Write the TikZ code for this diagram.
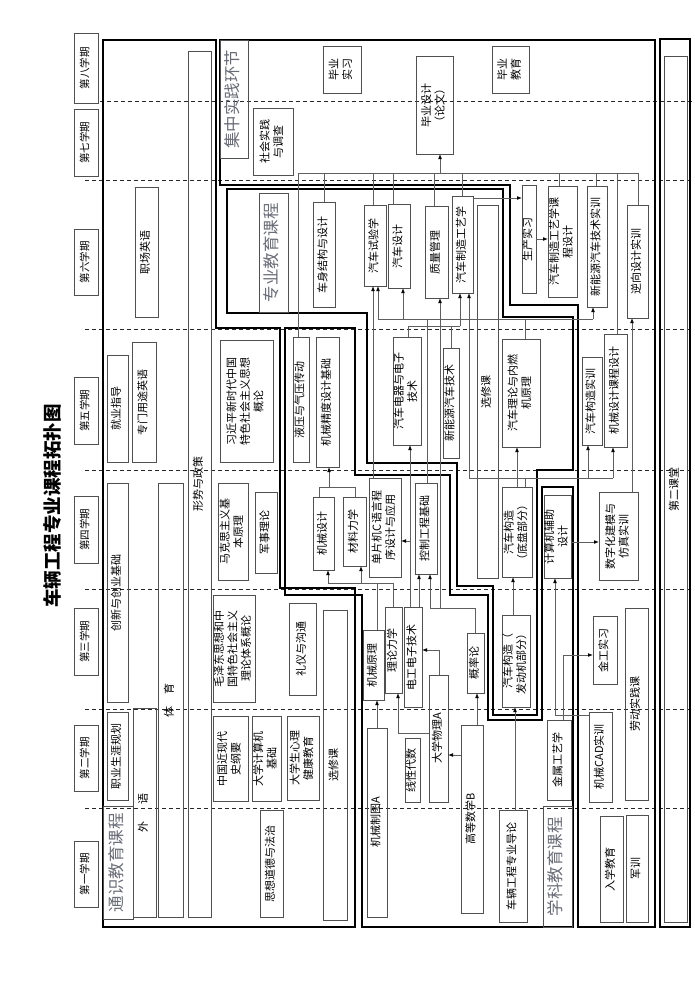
\documentclass[tikz,border=0pt]{standalone}
\usepackage{fontspec}
\setmainfont{Noto Sans CJK SC}
\usepackage{graphicx}
\usetikzlibrary{arrows.meta}
\definecolor{bordergray}{RGB}{80,80,80}
\definecolor{linegray}{RGB}{95,95,95}
\definecolor{labelgray}{RGB}{105,108,118}
\newcommand{\rtxt}[1]{\rotatebox{90}{\begin{tabular}{@{}c@{}}#1\end{tabular}}}
\newcommand{\bxs}[7]{\node[#1,minimum width={(#5-#3)*1pt},minimum height={(#6-#4)*1pt}] (#2) at ({(#3+#5)/2},{(#4+#6)/2}) {\rtxt{#7}};}
\tikzset{
 bx/.style={draw=bordergray,line width=0.8pt,inner sep=0pt,outer sep=0pt,font=\fontsize{11}{13.5}\selectfont},
 lbx/.style={bx,text=labelgray,font=\fontsize{16.5}{18}\selectfont},
 sem/.style={bx,font=\fontsize{10.5}{12}\selectfont},
 region/.style={line width=2pt,black,line join=miter},
 semline/.style={black!85,line width=0.8pt,dash pattern=on 4pt off 3pt},
 conn/.style={linegray,line width=0.8pt},
 arr/.style={conn,-{Latex[length=5pt,width=3.8pt,color=black]}},
}
\begin{document}
\begin{tikzpicture}[x=1pt,y=-1pt]
\useasboundingbox (0,0) rectangle (694,982);
% semester dashed lines
\draw[semline] (100,101) -- (692,101);
\foreach \yy in {180,329,470,589,709,808}{\draw[semline] (85,\yy) -- (692,\yy);}
% title
\node[rotate=90,font=\fontsize{18.5}{20}\selectfont\bfseries] (title) at (52,506) {车辆工程专业课程拓扑图};
% semesters
\bxs{sem}{s8}{74}{33}{98}{103}{第八学期}
\bxs{sem}{s7}{74}{109}{98}{176}{第七学期}
\bxs{sem}{s6}{74}{229}{98}{295}{第六学期}
\bxs{sem}{s5}{74}{377}{98}{444}{第五学期}
\bxs{sem}{s4}{74}{496}{98}{563}{第四学期}
\bxs{sem}{s3}{74}{608}{98}{675}{第三学期}
\bxs{sem}{s2}{74}{725}{98}{791}{第二学期}
\bxs{sem}{s1}{74}{841}{98}{907}{第一学期}
% regions
\draw[region] (103,40) -- (216,40) -- (216,328) -- (280,328) -- (280,588) -- (355,588) -- (355,927) -- (103,927) -- cycle;
\draw[region] (285,328) -- (355,328) -- (355,475) -- (450,475) -- (450,595) -- (488,595) -- (488,720) -- (542,720) -- (542,487) -- (573,487) -- (573,927) -- (362,927) -- (362,595) -- (285,595) -- cycle;
\draw[region] (227,189) -- (503,189) -- (503,317) -- (573,317) -- (573,470) -- (537,470) -- (537,715) -- (493,715) -- (493,586) -- (457,586) -- (457,463) -- (367,463) -- (367,313) -- (227,313) -- cycle;
\draw[region] (220,40) -- (655,40) -- (655,927) -- (578,927) -- (578,305) -- (510,305) -- (510,185) -- (220,185) -- cycle;
\draw[region] (660,39) rectangle (690,927);
% region labels
\bxs{lbx}{tsl}{103}{806}{133}{919}{通识教育课程}
\bxs{lbx}{xkl}{543}{806}{572}{927}{学科教育课程}
\bxs{lbx}{zjl}{259}{193}{288}{312}{专业教育课程}
\bxs{lbx}{jzl}{220}{40}{248}{158}{集中实践环节}
% general education
\bxs{bx}{wy}{133}{708}{156}{917}{外\hspace{17pt}语}
\bxs{bx}{ty}{158}{483}{183}{917}{体\hspace{12pt}育}
\bxs{bx}{xs}{188}{51}{211}{917}{形势与政策}
\bxs{bx}{zcyy}{135}{187}{158}{317}{职场英语}
\bxs{bx}{zmyy}{132}{342}{156}{462}{专门用途英语}
\bxs{bx}{jyzd}{107}{355}{128}{462}{就业指导}
\bxs{bx}{cx}{107}{483}{128}{702}{创新与创业基础}
\bxs{bx}{zysy}{107}{712}{128}{800}{职业生涯规划}
\bxs{bx}{xjp}{220}{340}{273}{462}{习近平新时代中国\\特色社会主义思想\\概论}
\bxs{bx}{mks}{218}{483}{248}{580}{马克思主义基\\本原理}
\bxs{bx}{jsll}{255}{492}{277}{573}{军事理论}
\bxs{bx}{mzd}{213}{595}{255}{702}{毛泽东思想和中\\国特色社会主义\\理论体系概论}
\bxs{bx}{lysg}{289}{603}{316}{695}{礼仪与沟通}
\bxs{bx}{xxka}{323}{610}{347}{920}{选修课}
\bxs{bx}{zgjxd}{213}{716}{248}{801}{中国近现代\\史纲要}
\bxs{bx}{dxjsj}{252}{716}{281}{801}{大学计算机\\基础}
\bxs{bx}{xlj}{287}{716}{319}{800}{大学生心理\\健康教育}
\bxs{bx}{sxdd}{260}{810}{283}{917}{思想道德与法治}
% discipline
\bxs{bx}{jxzt}{367}{728}{387}{917}{机械制图A}
\bxs{bx}{xxds}{405}{738}{420}{802}{线性代数}
\bxs{bx}{dxwl}{429}{675}{448}{802}{大学物理A}
\bxs{bx}{gdsx}{461}{725}{483}{913}{高等数学B}
\bxs{bx}{dlg}{499}{810}{527}{922}{车辆工程专业导论}
\bxs{bx}{jsgy}{547}{720}{571}{800}{金属工艺学}
\bxs{bx}{jxyl}{363}{630}{384}{700}{机械原理}
\bxs{bx}{llx}{385}{607}{402}{693}{理论力学}
\bxs{bx}{dgdz}{404}{607}{422}{707}{电工电子技术}
\bxs{bx}{gll}{467}{633}{484}{693}{概率论}
\bxs{bx}{jxsj}{313}{497}{334}{570}{机械设计}
\bxs{bx}{clx}{343}{497}{366}{566}{材料力学}
\bxs{bx}{dpj}{369}{478}{401}{577}{单片机C语言程\\序设计与应用}
\bxs{bx}{kzgc}{415}{483}{437}{574}{控制工程基础}
\bxs{bx}{yy}{293}{337}{309}{462}{液压与气压传动}
\bxs{bx}{jd}{316}{337}{339}{467}{机械精度设计基础}
\bxs{bx}{jsjfz}{545}{495}{570}{578}{计算机辅助\\设计}
% professional
\bxs{bx}{csjg}{313}{202}{335}{307}{车身结构与设计}
\bxs{bx}{qcsy}{364}{205}{386}{286}{汽车试验学}
\bxs{bx}{qcsj}{388}{204}{410}{288}{汽车设计}
\bxs{bx}{zlgl}{425}{206}{448}{298}{质量管理}
\bxs{bx}{zzgy}{452}{196}{473}{293}{汽车制造工艺学}
\bxs{bx}{xxkb}{477}{205}{498}{578}{选修课}
\bxs{bx}{qcdq}{393}{337}{421}{445}{汽车电器与电子\\技术}
\bxs{bx}{xny}{443}{348}{459}{458}{新能源汽车技术}
\bxs{bx}{qcll}{502}{339}{540}{447}{汽车理论与内燃\\机原理}
\bxs{bx}{gzdp}{502}{487}{532}{577}{汽车构造\\（底盘部分）}
\bxs{bx}{gzfd}{502}{615}{530}{707}{汽车构造（\\发动机部分）}
% practice
\bxs{bx}{shsj}{253}{108}{293}{175}{社会实践\\与调查}
\bxs{bx}{bysx}{323}{46}{361}{93}{毕业\\实习}
\bxs{bx}{bysj}{416}{56}{453}{154}{毕业设计\\（论文）}
\bxs{bx}{byjy}{492}{46}{529}{93}{毕业\\教育}
\bxs{bx}{scsx}{522}{185}{536}{293}{生产实习}
\bxs{bx}{zzkc}{548}{186}{577}{297}{汽车制造工艺学课\\程设计}
\bxs{bx}{xnysx}{587}{186}{607}{307}{新能源汽车技术实训}
\bxs{bx}{nxsj}{627}{205}{648}{318}{逆向设计实训}
\bxs{bx}{gzsx}{582}{357}{602}{445}{汽车构造实训}
\bxs{bx}{jkcs}{604}{334}{627}{447}{机械设计课程设计}
\bxs{bx}{szh}{599}{492}{638}{580}{数字化建模与\\仿真实训}
\bxs{bx}{jgsx}{593}{616}{617}{684}{金工实习}
\bxs{bx}{ldsj}{625}{608}{648}{800}{劳动实践课}
\bxs{bx}{cad}{589}{712}{612}{802}{机械CAD实训}
\bxs{bx}{rxjy}{600}{816}{623}{922}{入学教育}
\bxs{bx}{jx}{626}{815}{648}{922}{军训}
% second classroom
\bxs{bx}{dekt}{664}{56}{687}{922}{第二课堂}
% ---- connectors ----
\coordinate (cL) at (298,173);
\coordinate (cR) at (638,173);
\draw[conn] (yy.north -| cL) -- (cL) -- (cR) -- (nxsj.north -| cR);
\draw[arr] (440,173) -- (bysj.south -| 440,0);
\draw[conn] (csjg.north -| 324,0) -- (324,173);
\draw[conn] (qcsy.north -| 373,0) -- (373,173);
\draw[conn] (qcsj.north -| 393,0) -- (393,173);
\draw[conn] (zlgl.north -| 434,0) -- (434,173);
\draw[conn] (zzgy.north -| 462,0) -- (462,173);
\draw[conn] (zzkc.north -| 559,0) -- (559,173);
\draw[conn] (xnysx.north -| 596,0) -- (596,173);
\draw[conn] (jkcs.north -| 617,0) -- (617,173);
\draw[arr] (zzgy.east |- 0,198) -- (scsx.west |- 0,198);
\draw[arr] (scsx.east |- 0,239) -- (zzkc.west |- 0,239);
\draw[conn] (qcll.north -| 525,0) -- (525,319);
\draw[conn] (378,319) -- (593,319);
\draw[arr] (378,319) -- (qcsy.south -| 378,0);
\draw[arr] (403,319) -- (qcsj.south -| 403,0);
\draw[arr] (593,319) -- (xnysx.south -| 593,0);
\draw[conn] (kzgc.north -| 427,0) -- (427,319);
\draw[arr] (dpj.north -| 373,0) -- (qcsy.south -| 373,0);
\draw[conn] (qcdq.north -| 408,0) -- (408,326) -- (460,326);
\draw[conn] (xny.north -| 451,0) -- (451,326);
\draw[arr] (460,326) -- (zzgy.south -| 460,0);
\draw[conn] (gll.north -| 475,0) -- (475,608) -- (430,608);
\draw[arr] (430,608) -- (kzgc.south -| 430,0);
\draw[arr] (440,608) -- (zlgl.south -| 440,0);
\draw[arr] (dgdz.north -| 410,0) -- (qcdq.south -| 410,0);
\draw[arr] (410,541) -- (dpj.east |- 0,541);
\draw[arr] (dgdz.north -| 419,0) -- (kzgc.south -| 419,0);
\draw[conn] (jxyl.north -| 377,0) -- (377,583);
\draw[conn] (llx.north -| 393,0) -- (393,583);
\draw[conn] (328,583) -- (393,583);
\draw[arr] (328,583) -- (jxsj.south -| 328,0);
\draw[arr] (361,583) -- (clx.south -| 361,0);
\draw[conn] (jxsj.north -| 319,0) -- (319,487) -- (355,487) -- (clx.north -| 355,0);
\draw[arr] (329,487) -- (jd.south -| 329,0);
\draw[arr] (jxzt.north -| 377,0) -- (jxyl.south -| 377,0);
\draw[arr] (dxwl.west |- 0,733) -- (398,733) -- (llx.south -| 398,0);
\draw[arr] (dxwl.north -| 439,0) -- (439,650) -- (dgdz.east |- 0,650);
\draw[arr] (gdsx.west |- 0,755) -- (dxwl.east |- 0,755);
\draw[arr] (gdsx.north -| 477,0) -- (gll.south -| 477,0);
\draw[arr] (dlg.north -| 515,0) -- (gzfd.south -| 515,0);
\draw[arr] (gzfd.north -| 513,0) -- (gzdp.south -| 513,0);
\draw[arr] (gzdp.north -| 517,0) -- (qcll.south -| 517,0);
\draw[conn] (gzdp.north -| 525,0) -- (525,478);
\draw[conn] (469,478) -- (613,478);
\draw[arr] (469,478) -- (zzgy.south -| 469,0);
\draw[arr] (588,478) -- (gzsx.south -| 588,0);
\draw[arr] (613,478) -- (jkcs.south -| 613,0);
\draw[arr] (cad.west |- 0,715) -- (555,715) -- (jsjfz.south -| 555,0);
\draw[arr] (jsjfz.east |- 0,542) -- (szh.west |- 0,542);
\draw[arr] (jsgy.north -| 563,0) -- (563,655) -- (jgsx.west |- 0,655);
\draw[arr] (szh.north -| 632,0) -- (nxsj.south -| 632,0);
\end{tikzpicture}
\end{document}
